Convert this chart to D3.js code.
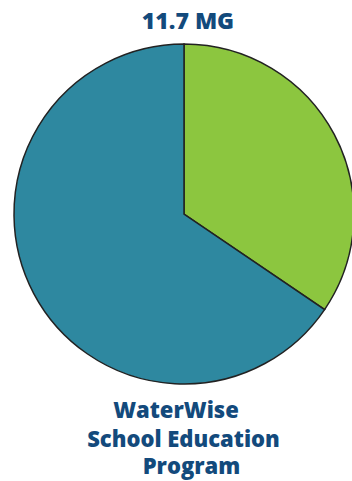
<!DOCTYPE html>
<html>
<head>
<meta charset="utf-8">
<script src="https://cdn.jsdelivr.net/npm/d3@7"></script>
<style>
body { margin: 0; background: #fff; }
text { font-family: "Open Sans", sans-serif; font-weight: 800; fill: #134a7c; }
</style>
</head>
<body>
<div id="chart"></div>
<script>
// slice values (share of total, %)
let categories = ['Other', 'WaterWise School Education Program'];
let values = [34.5, 65.5];
let colors = ['#8cc63f', '#2e88a0'];
let title = '11.7 MG';
let labelLines = ['WaterWise', 'School Education', 'Program'];

let width = 352;
let height = 481;
let cx = 184, cy = 214, radius = 170;

let svg = d3.select('#chart')
	.append('svg')
	.attr('width', width)
	.attr('height', height);

let pie = d3.pie().sort(null).value(d => d);
let arc = d3.arc().innerRadius(0).outerRadius(radius);

svg.append('g')
	.attr('transform', 'translate(' + cx + ',' + cy + ')')
	.selectAll('path')
	.data(pie(values))
	.enter()
	.append('path')
	.attr('d', arc)
	.attr('fill', (d, i) => colors[i])
	.attr('stroke', '#222')
	.attr('stroke-width', 1.5);

svg.append('text')
	.attr('x', 188)
	.attr('y', 29)
	.attr('text-anchor', 'middle')
	.attr('font-size', 23)
	.text(title);

// label lines are a little staggered in the original
let lineX = [176, 183.5, 191.5];
let lineY = [418, 447, 474];
svg.selectAll('.lbl')
	.data(labelLines)
	.enter()
	.append('text')
	.attr('class', 'lbl')
	.attr('x', (d, i) => lineX[i])
	.attr('y', (d, i) => lineY[i])
	.attr('text-anchor', 'middle')
	.attr('font-size', 22)
	.text(d => d);
</script>
</body>
</html>
